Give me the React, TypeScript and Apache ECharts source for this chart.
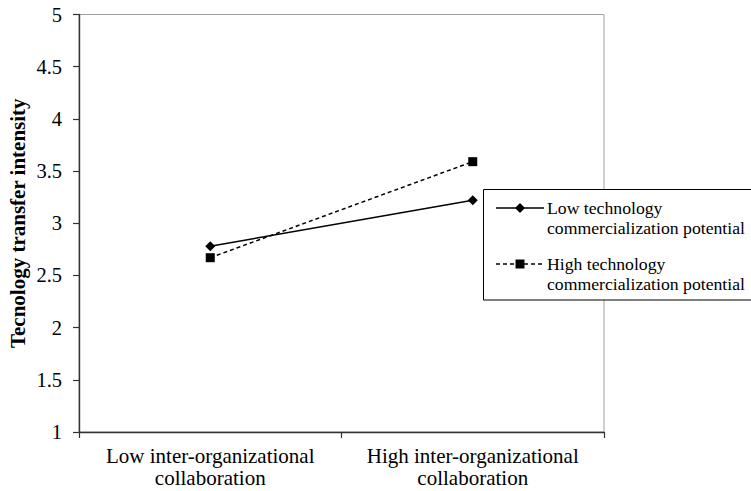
import React, { useEffect, useRef } from "react";
import * as echarts from "echarts";

const categories = [
  "Low inter-organizational\ncollaboration",
  "High inter-organizational\ncollaboration",
];
const seriesNames = [
  "Low technology commercialization potential",
  "High technology commercialization potential",
];
const legendLabels = [
  "Low technology\ncommercialization potential",
  "High technology\ncommercialization potential",
];
const lowTech = [2.78, 3.22];
const highTech = [2.67, 3.59];
const yTitle = "Tecnology transfer intensity";

const FONT = "Liberation Serif";

export default function App() {
  const ref = useRef<HTMLDivElement>(null);
  useEffect(() => {
    if (!ref.current) return;
    const chart = echarts.init(ref.current, undefined, { renderer: "svg" });
    chart.setOption({
      animation: false,
      backgroundColor: "#fff",
      textStyle: { fontFamily: FONT },
      grid: {
        left: 79,
        right: 147,
        top: 14.5,
        bottom: 59,
        show: true,
        borderColor: "#a0a0a0",
        borderWidth: 1,
        backgroundColor: "transparent",
        outerBoundsMode: "none",
        containLabel: false,
      },
      xAxis: {
        type: "category",
        data: categories,
        boundaryGap: true,
        axisLine: { lineStyle: { color: "#333", width: 1.4 } },
        axisTick: { show: true, length: 6, lineStyle: { color: "#333", width: 1.2 } },
        axisLabel: {
          color: "#000",
          fontFamily: FONT,
          fontSize: 21,
          lineHeight: 22,
          margin: 13,
          interval: 0,
          hideOverlap: false,
        },
        splitLine: { show: false },
      },
      yAxis: {
        type: "value",
        min: 1,
        max: 5,
        interval: 0.5,
        name: yTitle,
        nameLocation: "middle",
        nameGap: 51,
        nameMoveOverlap: false,
        nameTextStyle: { color: "#000", fontFamily: FONT, fontSize: 21, fontWeight: "bold" },
        axisLine: { show: true, lineStyle: { color: "#333", width: 1.4 } },
        axisTick: { show: true, length: 6, lineStyle: { color: "#333", width: 1.2 } },
        axisLabel: { color: "#000", fontFamily: FONT, fontSize: 20.5, margin: 17 },
        splitLine: { show: false },
      },
      series: [
        {
          name: seriesNames[0],
          type: "line",
          data: lowTech,
          symbol: "diamond",
          symbolSize: 10,
          itemStyle: { color: "#000" },
          lineStyle: { color: "#000", width: 1.5, type: "solid" },
          z: 3,
        },
        {
          name: seriesNames[1],
          type: "line",
          data: highTech,
          symbol: "rect",
          symbolSize: 9,
          itemStyle: { color: "#000" },
          lineStyle: { color: "#000", width: 1.5, type: [4, 3] },
          z: 3,
        },
      ],
      graphic: [
        {
          type: "group",
          z: 100,
          children: [
            {
              type: "rect",
              shape: { x: 483.5, y: 189.5, width: 300, height: 110.5 },
              style: { fill: "#fff", stroke: "#000", lineWidth: 1 },
            },
            {
              type: "line",
              shape: { x1: 496, y1: 208, x2: 544, y2: 208 },
              style: { stroke: "#000", lineWidth: 1.5 },
            },
            {
              type: "polygon",
              shape: { points: [[520, 203], [525, 208], [520, 213], [515, 208]] },
              style: { fill: "#000" },
            },
            {
              type: "text",
              x: 547,
              y: 198,
              style: {
                text: legendLabels[0],
                font: `17.7px ${FONT}`,
                lineHeight: 20,
                fill: "#000",
                verticalAlign: "top",
              },
            },
            {
              type: "line",
              shape: { x1: 496, y1: 264, x2: 544, y2: 264 },
              style: { stroke: "#000", lineWidth: 1.5, lineDash: [4, 3] },
            },
            {
              type: "rect",
              shape: { x: 515.5, y: 259.5, width: 9, height: 9 },
              style: { fill: "#000" },
            },
            {
              type: "text",
              x: 547,
              y: 254,
              style: {
                text: legendLabels[1],
                font: `17.7px ${FONT}`,
                lineHeight: 20,
                fill: "#000",
                verticalAlign: "top",
              },
            },
          ],
        },
      ],
    });
    return () => chart.dispose();
  }, []);
  return (
    <div
      ref={ref}
      style={{ position: "absolute", left: 0, top: 0, width: 751, height: 491 }}
    />
  );
}
